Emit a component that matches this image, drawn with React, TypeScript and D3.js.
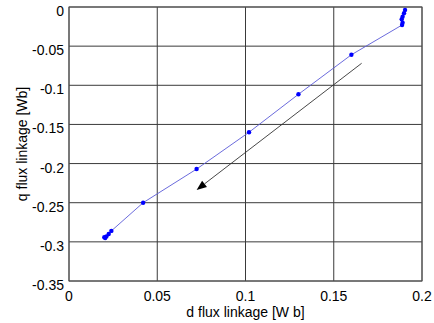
import React from "react";
import * as d3 from "d3";

const dFlux: number[] = [0.0200, 0.0205, 0.0212, 0.0225, 0.0240, 0.0420, 0.0723, 0.1020, 0.1300, 0.1600, 0.1887, 0.1890, 0.1885, 0.1890, 0.1898, 0.1904];
const qFlux: number[] = [-0.2940, -0.2950, -0.2930, -0.2900, -0.2860, -0.2500, -0.2070, -0.1600, -0.1115, -0.0610, -0.0230, -0.0200, -0.0157, -0.0124, -0.0080, -0.0038];
const xTicks: number[] = [0, 0.05, 0.1, 0.15, 0.2];
const yTicks: number[] = [0, -0.05, -0.1, -0.15, -0.2, -0.25, -0.3, -0.35];
const arrowFrom: [number, number] = [0.1658, -0.0719];
const arrowTo: [number, number] = [0.0723, -0.2337];

const W = 434, H = 323;
const L = 69, R = 422, T = 7, B = 281;

export default function App() {
  const x = d3.scaleLinear().domain([0, 0.2]).range([L, R]);
  const y = d3.scaleLinear().domain([-0.35, 0]).range([B, T]);
  const pts = dFlux.map((d, i) => [d, qFlux[i]] as [number, number]);
  const line = d3.line<[number, number]>().x(p => x(p[0])).y(p => y(p[1]));

  const ax1 = x(arrowFrom[0]), ay1 = y(arrowFrom[1]);
  const ax2 = x(arrowTo[0]), ay2 = y(arrowTo[1]);
  const ang = Math.atan2(ay2 - ay1, ax2 - ax1);
  const hl = 10, hw = 4;
  const bx = ax2 - hl * Math.cos(ang), by = ay2 - hl * Math.sin(ang);
  const head = `M${ax2},${ay2} L${bx + hw * Math.sin(ang)},${by - hw * Math.cos(ang)} L${bx - hw * Math.sin(ang)},${by + hw * Math.cos(ang)} Z`;

  const font = "'Liberation Sans', Arial, Helvetica, sans-serif";
  const fmt = (v: number) => (v === 0 ? "0" : String(+v.toFixed(2)));

  return (
    <svg width={W} height={H} style={{ position: "absolute", left: 0, top: 0, background: "#fff" }} fontFamily={font}>
      <rect x={0} y={0} width={W} height={H} fill="#fff" />
      {xTicks.map(t => (
        <line key={"gx" + t} x1={x(t)} x2={x(t)} y1={T} y2={B} stroke="#3a3a3a" strokeWidth={1} />
      ))}
      {yTicks.map(t => (
        <line key={"gy" + t} x1={L} x2={R} y1={y(t)} y2={y(t)} stroke="#3a3a3a" strokeWidth={1} />
      ))}
      <rect x={L} y={T} width={R - L} height={B - T} fill="none" stroke="#555" strokeWidth={1} />
      <path d={line(pts) || ""} fill="none" stroke="#5a5ad8" strokeWidth={0.9} />
      {pts.map((p, i) => (
        <circle key={"p" + i} cx={x(p[0])} cy={y(p[1])} r={2.2} fill="#0000ff" />
      ))}
      <line x1={ax1} y1={ay1} x2={bx} y2={by} stroke="#333" strokeWidth={0.9} />
      <path d={head} fill="#000" />
      {xTicks.map(t => (
        <text key={"tx" + t} x={x(t)} y={B + 20} fontSize={14} textAnchor="middle" fill="#000">{fmt(t)}</text>
      ))}
      {yTicks.map(t => (
        <text key={"ty" + t} x={L - 5} y={y(t) + 9} fontSize={14} textAnchor="end" fill="#000">{fmt(t)}</text>
      ))}
      <text x={(L + R) / 2} y={317} fontSize={14} textAnchor="middle" fill="#000">d flux linkage [W b]</text>
      <text transform={`translate(27,${(T + B) / 2}) rotate(-90)`} fontSize={14} textAnchor="middle" fill="#000">q flux linkage [Wb]</text>
    </svg>
  );
}
